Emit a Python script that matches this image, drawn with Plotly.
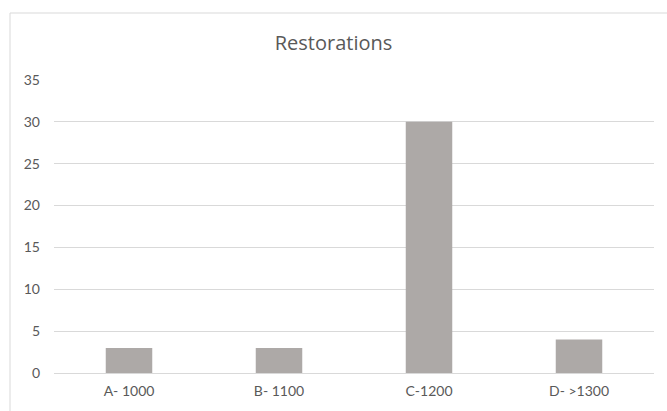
import plotly.graph_objects as go

# Restoration counts by category
categories = ["A- 1000", "B- 1100", "C-1200", "D- >1300"]
counts = [3, 3, 30, 4]
y_ticks = [0, 5, 10, 15, 20, 25, 30, 35]

BAR_COLOR = "#ADA9A7"
GRID_COLOR = "#D9D9D9"
TEXT_COLOR = "#595959"
FONT = "Lato"
TITLE_FONT = "Open Sans"

fig = go.Figure(
    go.Bar(
        x=categories,
        y=counts,
        marker=dict(color=BAR_COLOR, line=dict(width=0)),
        width=0.31,
    )
)

fig.update_layout(
    width=667,
    height=411,
    margin=dict(l=54, r=13, t=80, b=38),
    paper_bgcolor="white",
    plot_bgcolor="white",
    showlegend=False,
    font=dict(family=FONT, color=TEXT_COLOR, size=14),
    title=dict(
        text="Restorations",
        x=0.5,
        xanchor="center",
        y=1 - 43 / 411,
        yanchor="middle",
        font=dict(family=TITLE_FONT, size=20, color=TEXT_COLOR),
    ),
    xaxis=dict(
        showgrid=False,
        showline=True,
        linecolor=GRID_COLOR,
        linewidth=1,
        ticks="",
        tickfont=dict(size=14, color=TEXT_COLOR),
        ticklabelstandoff=5,
    ),
    yaxis=dict(
        range=[0, 35],
        tickvals=y_ticks,
        showgrid=True,
        gridcolor=GRID_COLOR,
        gridwidth=1,
        zeroline=False,
        showline=False,
        ticks="",
        tickfont=dict(size=14, color=TEXT_COLOR),
        ticklabelstandoff=13,
    ),
    shapes=[
        dict(
            type="rect",
            xref="paper",
            yref="paper",
            x0=(10 - 54) / 600,
            x1=1.2,
            y0=-0.3,
            y1=(373 - 13) / 293,
            line=dict(color=GRID_COLOR, width=1),
            fillcolor="rgba(0,0,0,0)",
            layer="below",
        )
    ],
)

fig.write_html("out.html")
